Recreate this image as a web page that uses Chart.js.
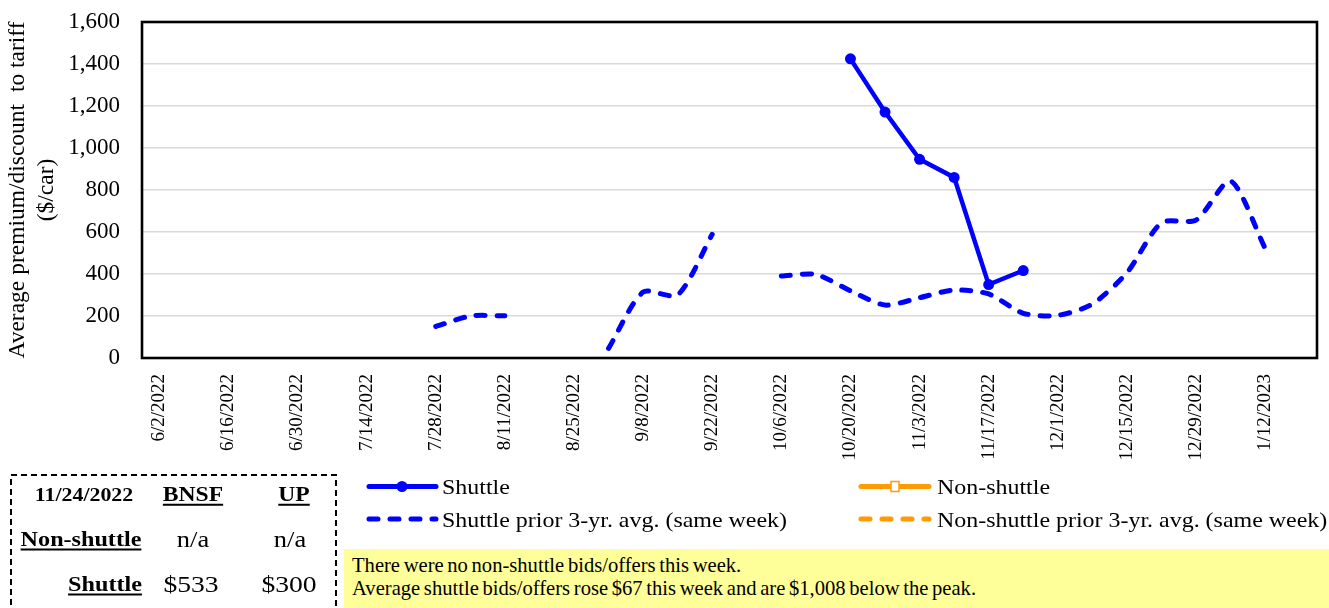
<!DOCTYPE html>
<html>
<head>
<meta charset="utf-8">
<script src="https://cdn.jsdelivr.net/npm/chart.js@4.4.1/dist/chart.umd.min.js"></script>
<style>
  html, body { margin: 0; padding: 0; background: #fff; }
  body { width: 1329px; height: 608px; overflow: hidden; position: relative;
         font-family: "Liberation Serif", "Times New Roman", serif; color: #000; }
  #chart { position: absolute; left: 0; top: 0; }
  #deco { position: absolute; left: 0; top: 0; }
  .t { position: absolute; white-space: nowrap; line-height: 1; }
  .c { transform: translate(-50%, -50%) scaleX(1.15); }
  .l { transform-origin: left center; transform: translateY(-50%) scaleX(1.14); font-size: 21px; }
  .b { font-weight: bold; }
  .u { text-decoration: underline; text-underline-offset: 3px; }
  #note { position: absolute; left: 344px; top: 549px; width: 985px; height: 59px; background: #FFFF99; }
  .n { position: absolute; left: 8px; font-size: 20.6px; word-spacing: -1.5px; white-space: nowrap; line-height: 1; }
</style>
</head>
<body>
<canvas id="chart" width="1329" height="470"></canvas>

<div id="note">
  <div class="n" style="top:6px">There were no non-shuttle bids/offers this week.</div>
  <div class="n" style="top:29px">Average shuttle bids/offers rose $67 this week and are $1,008 below the peak.</div>
</div>

<svg id="deco" width="1329" height="608">
  <!-- weekly summary box -->
  <rect x="11" y="475" width="325" height="150" fill="none" stroke="#000" stroke-width="2" stroke-dasharray="6 4"/>
  <!-- legend samples -->
  <line x1="369" y1="486.5" x2="436" y2="486.5" stroke="#0000FF" stroke-width="5" stroke-linecap="round"/>
  <circle cx="402" cy="486.5" r="5.5" fill="#0000FF"/>
  <line x1="369" y1="519" x2="436" y2="519" stroke="#0000FF" stroke-width="5" stroke-linecap="round" stroke-dasharray="9 12"/>
  <line x1="861" y1="486.5" x2="929" y2="486.5" stroke="#FF9A00" stroke-width="5" stroke-linecap="round"/>
  <rect x="891" y="481.5" width="8" height="10" fill="#fff" stroke="#FF9A00" stroke-width="1.5"/>
  <line x1="861" y1="519" x2="929" y2="519" stroke="#FF9A00" stroke-width="5" stroke-linecap="round" stroke-dasharray="9 12"/>
</svg>

<div class="t l" style="left:442px;top:487px">Shuttle</div>
<div class="t l" style="left:442px;top:520px">Shuttle prior 3-yr. avg. (same week)</div>
<div class="t l" style="left:937px;top:487px">Non-shuttle</div>
<div class="t l" style="left:937px;top:520px">Non-shuttle prior 3-yr. avg. (same week)</div>

<div class="t c b" style="left:84px;top:494px;font-size:19px">11/24/2022</div>
<div class="t c b u" style="left:193px;top:494px;font-size:20.5px">BNSF</div>
<div class="t c b u" style="left:294px;top:494px;font-size:20.5px">UP</div>
<div class="t c b u" style="left:81px;top:539px;font-size:21px">Non-shuttle</div>
<div class="t c" style="left:193px;top:539px;font-size:23px">n/a</div>
<div class="t c" style="left:290px;top:539px;font-size:23px">n/a</div>
<div class="t c b u" style="left:105px;top:584px;font-size:21px">Shuttle</div>
<div class="t c" style="left:191px;top:584px;font-size:24px">$533</div>
<div class="t c" style="left:289px;top:584px;font-size:24px">$300</div>

<script>
// Weekly categories (every other one is labelled on the axis)
const weeks = ['6/2/2022', '6/9/2022', '6/16/2022', '6/23/2022', '6/30/2022', '7/7/2022',
  '7/14/2022', '7/21/2022', '7/28/2022', '8/4/2022', '8/11/2022', '8/18/2022', '8/25/2022',
  '9/1/2022', '9/8/2022', '9/15/2022', '9/22/2022', '9/29/2022', '10/6/2022', '10/13/2022',
  '10/20/2022', '10/27/2022', '11/3/2022', '11/10/2022', '11/17/2022', '11/24/2022',
  '12/1/2022', '12/8/2022', '12/15/2022', '12/22/2022', '12/29/2022', '1/5/2023',
  '1/12/2023', '1/19/2023'];

// Shuttle average premium/discount to tariff ($/car)
const shuttle = [null, null, null, null, null, null, null, null, null, null,
  null, null, null, null, null, null, null, null, null, null,
  1424.5, 1171, 946, 860, 349.5, 416.5,
  null, null, null, null, null, null, null, null];

// Shuttle prior 3-year average for the same week ($/car)
const shuttleAvg = [null, null, null, null, null, null, null, null,
  150, 200, 201, null, null, 46, 314, 300, 589, null,
  390, 398, 320, 252, 287, 324, 305, 213, 203, 257, 406, 644, 657, 843, 522, null];

// Value axis ticks
const yMin = 0, yMax = 1600, yStep = 200;

const BLUE = '#0000FF';
const SERIF = '"Liberation Serif", "Times New Roman", serif';

// Black frame around the plot area
const plotFrame = {
  id: 'plotFrame',
  beforeDatasetsDraw(chart) {
    const { ctx, chartArea: a } = chart;
    ctx.save();
    ctx.strokeStyle = '#000';
    ctx.lineWidth = 2.6;
    ctx.strokeRect(a.left, a.top, a.right - a.left, a.bottom - a.top);
    ctx.restore();
  }
};

new Chart(document.getElementById('chart'), {
  type: 'line',
  data: {
    labels: weeks,
    datasets: [
      {
        label: 'Shuttle prior 3-yr. avg. (same week)',
        data: shuttleAvg,
        borderColor: BLUE,
        backgroundColor: BLUE,
        borderWidth: 5,
        borderDash: [9, 12],
        borderCapStyle: 'round',
        tension: 0.25,
        pointRadius: 0,
        spanGaps: false
      },
      {
        label: 'Shuttle',
        data: shuttle,
        borderColor: BLUE,
        backgroundColor: BLUE,
        borderWidth: 4.5,
        tension: 0,
        pointRadius: 5.5,
        pointBorderWidth: 0,
        pointBackgroundColor: BLUE,
        spanGaps: false
      }
    ]
  },
  options: {
    responsive: false,
    animation: false,
    events: [],
    layout: { padding: { top: 22, right: 12, left: 0, bottom: 0 } },
    plugins: { legend: { display: false }, tooltip: { enabled: false } },
    scales: {
      x: {
        offset: true,
        grid: { display: false, drawTicks: false },
        border: { display: false },
        ticks: {
          autoSkip: false,
          minRotation: 90,
          maxRotation: 90,
          padding: 16,
          color: '#000',
          font: { family: SERIF, size: 19 },
          callback(value, index) {
            return index % 2 === 0 ? this.getLabelForValue(value) : '';
          }
        },
        afterFit(scale) {
          scale.height = 112;
          scale.paddingLeft = 0;
          scale.paddingRight = 0;
        }
      },
      y: {
        min: yMin,
        max: yMax,
        grid: { color: '#D9D9D9', lineWidth: 1.5, drawTicks: false },
        border: { display: false },
        ticks: {
          stepSize: yStep,
          padding: 22,
          color: '#000',
          font: { family: SERIF, size: 23 }
        },
        title: {
          display: true,
          text: ['Average premium/discount  to tariff', '($/car)'],
          color: '#000',
          font: { family: SERIF, size: 23.5, lineHeight: 1.25 },
          padding: { top: 3, bottom: 0 }
        },
        afterFit(scale) {
          scale.width = 142;
          scale.paddingTop = 0;
          scale.paddingBottom = 0;
        }
      }
    }
  },
  plugins: [plotFrame]
});
</script>
</body>
</html>
